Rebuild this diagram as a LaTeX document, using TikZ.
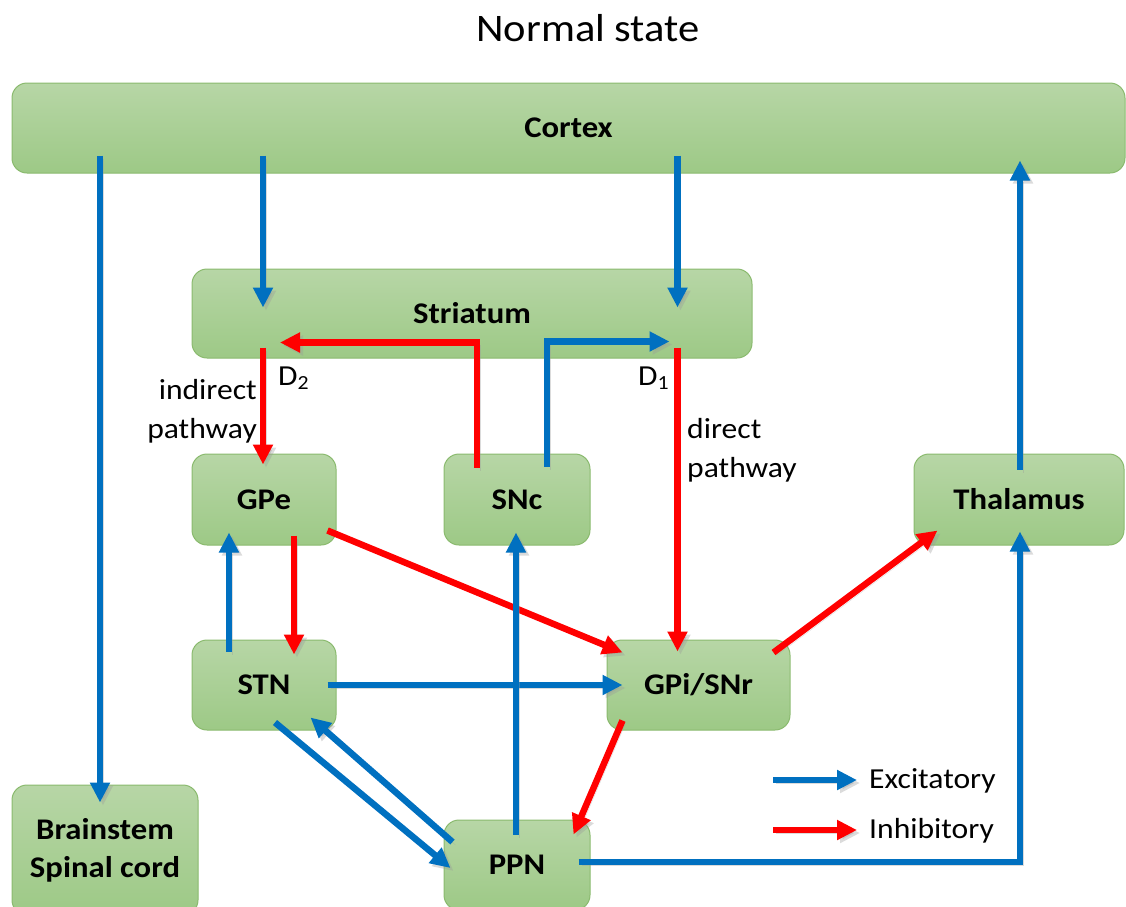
\documentclass[tikz,border=0pt]{standalone}
\usepackage{fontspec}
\setmainfont{Carlito}[FakeStretch=1.09]
\usetikzlibrary{arrows.meta,calc}
\definecolor{Bline}{RGB}{0,112,192}
\definecolor{Rline}{RGB}{255,0,0}
\definecolor{Gtop}{RGB}{183,214,166}
\definecolor{Gbot}{RGB}{157,201,134}
\definecolor{Gedge}{RGB}{138,186,110}
\newcommand{\lowidx}[1]{\raisebox{-0.35ex}{\fontsize{20}{20}\selectfont #1}}

\begin{document}
\begin{tikzpicture}[x=1pt,y=-1pt,
  region/.style={draw=Gedge,line width=1pt,rounded corners=15pt,top color=Gtop,bottom color=Gbot,inner sep=0pt,font=\bfseries\fontsize{30}{38}\selectfont},
  exc/.style={draw=Bline,line width=6.5pt,-{Triangle[length=20pt,width=19pt]},
    preaction={draw=black!40,opacity=0.35,transform canvas={xshift=3pt,yshift=-3pt}}},
  inh/.style={exc,draw=Rline},
  lbl/.style={inner sep=0pt,font=\fontsize{29}{39}\selectfont}]
\path[use as bounding box] (0,0) rectangle (1126,906);
\node[font=\fontsize{39}{45}\selectfont,anchor=base] (title) at (588,41) {Normal state};
% regions
\node[region,minimum width=1113pt,minimum height=90pt] (cortex) at (568.5,128) {Cortex};
\node[region,minimum width=560pt,minimum height=89pt] (striatum) at (472,313.5) {Striatum};
\node[region,minimum width=144pt,minimum height=91pt] (gpe) at (264,499.5) {GPe};
\node[region,minimum width=146pt,minimum height=91pt] (snc) at (517,499.5) {SNc};
\node[region,minimum width=210pt,minimum height=91pt] (thal) at (1019,499.5) {Thalamus};
\node[region,minimum width=144pt,minimum height=90pt] (stn) at (264,685) {STN};
\node[region,minimum width=183pt,minimum height=90pt] (gpi) at (698.5,685) {GPi/SNr};
\node[region,minimum width=186pt,minimum height=130pt,align=center] (brain) at (105,850) {Brainstem\\Spinal cord};
\node[region,minimum width=146pt,minimum height=90pt] (ppn) at (517,865) {PPN};
% cortex in/out
\draw[exc] ($(brain.north |- cortex.south)+(-5,-18)$) -- ($(brain.north)+(-5,18)$);
\draw[exc] ($(gpe.north |- cortex.south)+(-1,-18)$) -- ($(gpe.north |- striatum.north)+(-1,39)$);
\draw[exc] ($(gpi.north |- cortex.south)+(-21,-18)$) -- ($(gpi.north |- striatum.north)+(-21,39)$);
\draw[exc] ($(thal.north)+(1,16)$) -- ($(thal.north |- cortex.south)+(1,-13)$);
% striatum out
\draw[inh] ($(gpe.north |- striatum.south)+(-1,-11)$) -- ($(gpe.north)+(-1,11)$);
\draw[inh] ($(gpi.north |- striatum.south)+(-21,-11)$) -- ($(gpi.north)+(-21,12)$);
% dopamine
\draw[inh] ($(snc.north)+(-40,14)$) |- ($(gpe.north |- striatum.south)+(16,-16)$);
\draw[exc] ($(snc.north)+(30,13)$) |- ($(gpi.north |- striatum.south)+(-29,-17)$);
% GPe / STN
\draw[inh] ($(gpe.south)+(30,-10)$) -- ($(stn.north)+(30,15)$);
\draw[exc] ($(stn.north)+(-35,12)$) -- ($(gpe.south)+(-35,-13)$);
\draw[inh] ($(gpe.south east)+(-9,-15)$) -- ($(gpi.north west)+(16,13)$);
\draw[exc] ($(stn.east)+(-9,0)$) -- ($(gpi.west)+(16,0)$);
% GPi out
\draw[inh] ($(gpi.north east)+(-17,13)$) -- ($(thal.south west)+(24,-15)$);
\draw[inh] ($(gpi.south west)+(16,-10)$) -- ($(ppn.north east)+(-17,15)$);
% PPN
\draw[exc] ($(stn.south)+(11,-8)$) -- ($(ppn.west)+(7,3)$);
\draw[exc] ($(ppn.west)+(9,-23)$) -- ($(stn.south east)+(-26,-13)$);
\draw[exc] ($(ppn.north)+(-1,15)$) -- ($(snc.south)+(-1,-13)$);
\draw[exc] ($(ppn.east)+(-12,-3)$) -| ($(thal.south)+(1,-14)$);
% labels
\node[lbl,anchor=base west] (dtwo) at (278,385) {D\lowidx{2}};
\node[lbl,anchor=base west] (done) at (638,385) {D\lowidx{1}};
\node[lbl,align=right,anchor=east] (indir) at (257,411) {indirect\\pathway};
\node[lbl,align=left,anchor=west] (dir) at (687,450) {direct\\pathway};
% legend
\node[lbl,anchor=west] (exclbl) at (869,781) {Excitatory};
\node[lbl,anchor=west] (inhlbl) at (869,831) {Inhibitory};
\draw[exc] ($(exclbl.west)+(-96,-1)$) -- ($(exclbl.west)+(-12,-1)$);
\draw[inh] ($(inhlbl.west)+(-96,-1)$) -- ($(inhlbl.west)+(-12,-1)$);
\end{tikzpicture}
\end{document}
